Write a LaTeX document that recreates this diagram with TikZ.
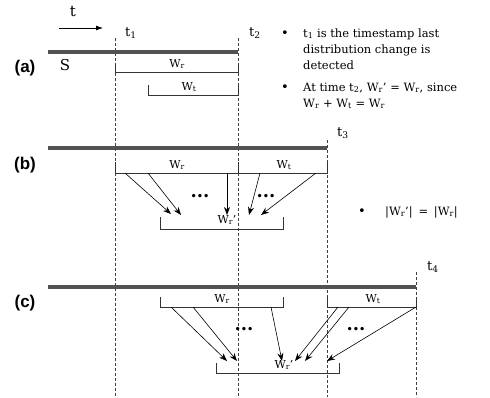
\documentclass[tikz,border=0pt]{standalone}
\usepackage{fontspec}
\setmainfont{DejaVu Serif}
\newfontfamily\lblfont{Liberation Sans}
\usetikzlibrary{arrows.meta}
\begin{document}
\begin{tikzpicture}[x=1pt,y=-1pt,
  bar/.style={line width=4pt, draw=black!68},
  tline/.style={dash pattern=on 3pt off 2pt, line width=0.6pt, draw=black!75},
  brk/.style={line width=0.8pt, draw=black!80},
  arr/.style={-{Stealth[length=8pt,width=6pt]}, line width=0.6pt},
  part/.style={font=\lblfont\bfseries\fontsize{17}{20}\selectfont, inner sep=0pt},
  tlab/.style={font=\fontsize{13}{15}\selectfont, inner sep=0pt},
  wlab/.style={font=\fontsize{11}{13}\selectfont, inner sep=0pt},
  note/.style={font=\fontsize{11.5}{14}\selectfont, inner sep=0pt, anchor=base west},
  bul/.style={font=\fontsize{13}{15}\selectfont, inner sep=0pt, anchor=base},
  dots/.style={font=\bfseries\fontsize{18}{18}\selectfont, inner sep=0pt},
]
\useasboundingbox (0,0) rectangle (490,397);

% time arrow
\coordinate (ta) at (59,28);
\coordinate (tb) at (103,28);
\draw[-{Latex[length=7pt,width=5pt]}, line width=0.8pt] (ta) -- (tb);
\node[font=\fontsize{15}{17}\selectfont, inner sep=0pt] (tt) at (73,12) {t};

% dashed time lines
\coordinate (t1top) at (115,38); \coordinate (t1bot) at (115,397);
\coordinate (t2top) at (238,38); \coordinate (t2bot) at (238,397);
\coordinate (t3top) at (327,140); \coordinate (t3bot) at (327,397);
\coordinate (t4top) at (416,272); \coordinate (t4bot) at (416,397);
\draw[tline] (t1top) -- (t1bot);
\draw[tline] (t2top) -- (t2bot);
\draw[tline] (t3top) -- (t3bot);
\draw[tline] (t4top) -- (t4bot);
\node[tlab] (lt1) at (131,33) {t\textsubscript{1}};
\node[tlab] (lt2) at (255,33) {t\textsubscript{2}};
\node[tlab] (lt3) at (343,133) {t\textsubscript{3}};
\node[tlab] (lt4) at (433,267) {t\textsubscript{4}};

% streams
\coordinate (sa0) at (48,52);  \coordinate (sa1) at (238,52);
\coordinate (sb0) at (48,148); \coordinate (sb1) at (327,148);
\coordinate (sc0) at (48,287); \coordinate (sc1) at (416,287);
\draw[bar] (sa0) -- (sa1);
\draw[bar] (sb0) -- (sb1);
\draw[bar] (sc0) -- (sc1);
\node[part] (pa) at (25,68) {(a)};
\node[part] (pb) at (25,165) {(b)};
\node[part] (pc) at (25,303) {(c)};
\node[font=\fontsize{15}{17}\selectfont, inner sep=0pt] (S) at (65,65) {S};

% (a) brackets
\draw[brk] (115,64) -- (115,72) -- (238,72) -- (238,64);
\node[wlab] (awr) at (177,64) {W\textsubscript{r}};
\draw[brk] (148,85) -- (148,95) -- (238,95) -- (238,85);
\node[wlab] (awt) at (189,87) {W\textsubscript{t}};

% (b) brackets
\draw[brk] (115,162) -- (115,173) -- (238,173) -- (238,162);
\node[wlab] (bwr) at (177,165) {W\textsubscript{r}};
\draw[brk] (238,162) -- (238,173) -- (327,173) -- (327,162);
\node[wlab] (bwt) at (284,165) {W\textsubscript{t}};
\draw[brk] (160,217) -- (160,229) -- (283,229) -- (283,217);
\node[wlab] (bwn) at (227,220) {W\textsubscript{r}’};

% (b) arrows
\coordinate (b1s) at (125,173); \coordinate (b1e) at (171,214);
\coordinate (b2s) at (148,173); \coordinate (b2e) at (181,215);
\coordinate (b3s) at (227,173); \coordinate (b3e) at (227,215);
\coordinate (b4s) at (260,173); \coordinate (b4e) at (249,215);
\coordinate (b5s) at (316,173); \coordinate (b5e) at (261,215);
\draw[arr] (b1s) -- (b1e);
\draw[arr] (b2s) -- (b2e);
\draw[arr] (b3s) -- (b3e);
\draw[arr] (b4s) -- (b4e);
\draw[arr] (b5s) -- (b5e);
\node[dots] (bd1) at (200,196) {...};
\node[dots] (bd2) at (266,196) {...};

% (c) brackets
\draw[brk] (160,297) -- (160,307) -- (283,307) -- (283,297);
\node[wlab] (cwr) at (222,299) {W\textsubscript{r}};
\draw[brk] (327,297) -- (327,307) -- (416,307) -- (416,297);
\node[wlab] (cwt) at (373,299) {W\textsubscript{t}};
\draw[brk] (216,363) -- (216,373) -- (339,373) -- (339,363);
\node[wlab] (cwn) at (284,365) {W\textsubscript{r}’};

% (c) arrows
\coordinate (c1s) at (171,307); \coordinate (c1e) at (227,361);
\coordinate (c2s) at (193,307); \coordinate (c2e) at (237,361);
\coordinate (c3s) at (271,307); \coordinate (c3e) at (282,361);
\coordinate (c4s) at (338,307); \coordinate (c4e) at (295,361);
\coordinate (c5s) at (349,307); \coordinate (c5e) at (305,361);
\coordinate (c6s) at (416,307); \coordinate (c6e) at (327,361);
\draw[arr] (c1s) -- (c1e);
\draw[arr] (c2s) -- (c2e);
\draw[arr] (c3s) -- (c3e);
\draw[arr] (c4s) -- (c4e);
\draw[arr] (c5s) -- (c5e);
\draw[arr] (c6s) -- (c6e);
\node[dots] (cd1) at (244,329) {...};
\node[dots] (cd2) at (356,329) {...};

% notes
\node[bul] (n1b) at (285,37) {•};
\node[note] (n1a) at (303,37) {t\textsubscript{1} is the timestamp last};
\node[note] (n1c) at (303,53) {distribution change is};
\node[note] (n1d) at (303,69) {detected};
\node[bul] (n2b) at (285,91) {•};
\node[note] (n2a) at (303,91) {At time t\textsubscript{2}, W\textsubscript{r}’ = W\textsubscript{r}, since};
\node[note] (n2c) at (303,107) {W\textsubscript{r} + W\textsubscript{t} = W\textsubscript{r}};
\node[bul] (n3b) at (362,215) {•};
\node[note] (n3a) at (385,215) {|W\textsubscript{r}’|\enspace=\enspace|W\textsubscript{r}|};
\end{tikzpicture}
\end{document}
